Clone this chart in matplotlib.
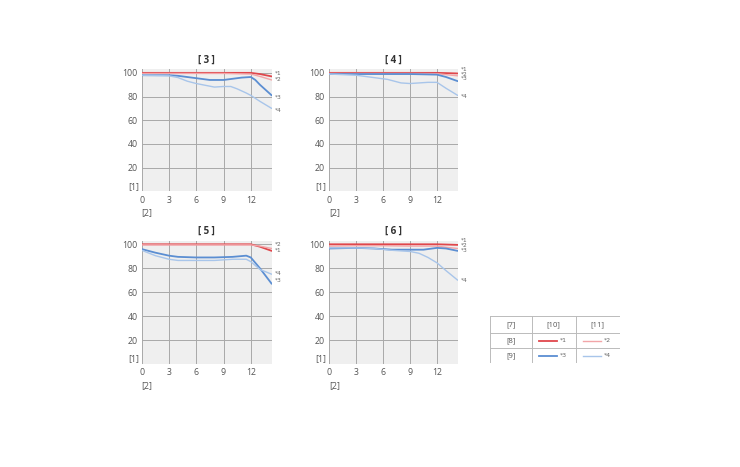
import matplotlib
matplotlib.use("Agg")
import matplotlib.pyplot as plt

plt.rcParams['font.family'] = ['Open Sans', 'DejaVu Sans']

titles = ["[3]", "[4]", "[5]", "[6]"]
y_label = "[1]"
x_label = "[2]"
x_ticks = [0, 3, 6, 9, 12]
y_ticks = [20, 40, 60, 80, 100]
series_names = ["*1", "*2", "*3", "*4"]

# image height positions (mm) and contrast (%) per panel
p3_x1 = [0, 3, 6, 9, 12, 13, 14.3]
p3_s1 = [100, 100, 100, 100, 100, 99, 97]
p3_x2 = [0, 3, 6, 9, 12, 13, 14.3]
p3_s2 = [99.5, 99.5, 99.5, 99.5, 99, 97, 94]
p3_x3 = [0, 3, 4, 5, 6, 7.5, 9, 10, 11, 12, 12.5, 13, 14.3]
p3_s3 = [98, 98, 97.5, 96.5, 95.5, 94, 94, 95, 96, 96.5, 94, 90, 81]
p3_x4 = [0, 3, 4, 5, 6, 7, 8, 9, 9.8, 10.5, 11.5, 12, 13, 14.3]
p3_s4 = [98, 97.5, 96, 93, 91, 89.5, 88, 88.5, 88.5, 86.5, 83, 81, 76, 70]

p4_x1 = [0, 3, 6, 9, 12, 13, 14.3]
p4_s1 = [100, 100, 100, 100, 100, 99.8, 99.5]
p4_x2 = [0, 3, 6, 9, 12, 13, 14.3]
p4_s2 = [99.5, 99.5, 99.5, 99.5, 99.3, 98.5, 97.5]
p4_x3 = [0, 3, 6, 9, 12, 13, 14.3]
p4_s3 = [99, 99, 99, 99, 98.5, 96.5, 93]
p4_x4 = [0, 3, 5, 6.5, 8, 9, 11, 12, 13, 14.3]
p4_s4 = [99, 98, 96, 94.5, 91.5, 91, 92, 92, 87, 81]

p5_x1 = [0, 3, 6, 9, 12, 13, 14.3]
p5_s1 = [100, 100, 100, 100, 100, 98, 94.5]
p5_x2 = [0, 3, 6, 9, 12, 13, 14.3]
p5_s2 = [99.5, 99.5, 99.5, 99.5, 99.5, 98.5, 96.5]
p5_x3 = [0, 1.5, 3, 4, 6, 8, 10, 11.5, 12, 13, 14.3]
p5_s3 = [96, 93, 90.5, 89.5, 89, 89, 89.5, 90.5, 89, 80, 67]
p5_x4 = [0, 1.5, 3, 4, 6, 8, 10, 11.5, 12, 13, 14.3]
p5_s4 = [95, 90.5, 87.5, 86.5, 86.5, 86.5, 87.5, 87.5, 85.5, 79, 75]

p6_x1 = [0, 3, 6, 9, 12, 13, 14.3]
p6_s1 = [100, 100, 100, 100, 100, 99.8, 99.5]
p6_x2 = [0, 3, 6, 9, 12, 13, 14.3]
p6_s2 = [98.5, 98.8, 98.8, 98.5, 98.5, 97.5, 96.5]
p6_x3 = [0, 3, 5, 7, 9, 10.5, 12, 13, 14.3]
p6_s3 = [96.5, 97, 96.5, 95.5, 95.5, 95.5, 97, 96.5, 94.5]
p6_x4 = [0, 3, 5, 7, 9, 10, 11, 12, 13, 14.3]
p6_s4 = [97, 97, 96.5, 95, 94, 92.5, 89, 84.5, 78, 70]

# label y positions for series names at right of each panel
p3_lab = [99.5, 94, 79, 68]
p4_lab = [103, 99, 95, 80]
p5_lab = [94.5, 99.5, 69.5, 76]
p6_lab = [103, 99, 95, 70]

panels = [
    (titles[0], [(p3_x1, p3_s1), (p3_x2, p3_s2), (p3_x3, p3_s3), (p3_x4, p3_s4)], p3_lab),
    (titles[1], [(p4_x1, p4_s1), (p4_x2, p4_s2), (p4_x3, p4_s3), (p4_x4, p4_s4)], p4_lab),
    (titles[2], [(p5_x1, p5_s1), (p5_x2, p5_s2), (p5_x3, p5_s3), (p5_x4, p5_s4)], p5_lab),
    (titles[3], [(p6_x1, p6_s1), (p6_x2, p6_s2), (p6_x3, p6_s3), (p6_x4, p6_s4)], p6_lab),
]

colors = ["#e0474c", "#f2a5a8", "#5b8ed2", "#a8c5ea"]
widths = [1.3, 1.0, 1.3, 1.0]

W, H = 740, 467
fig = plt.figure(figsize=(W / 100, H / 100), dpi=100)

# pixel boxes: left, top, right, bottom
boxes = [
    (141.7, 69.3, 271.7, 191.4),
    (329.0, 69.3, 457.7, 191.4),
    (141.7, 240.7, 271.7, 364.0),
    (329.0, 240.7, 457.7, 364.0),
]

txt_color = "#555555"
fs = 6.3

for (title, series, labs), (l, t, r, b) in zip(panels, boxes):
    ax = fig.add_axes([l / W, 1 - b / H, (r - l) / W, (b - t) / H])
    ax.set_facecolor("#efefef")
    ax.set_xlim(0, 14.3)
    ax.set_ylim(0, 103)
    for s in ax.spines.values():
        s.set_visible(False)
    ax.set_xticks(x_ticks)
    ax.set_yticks(y_ticks)
    ax.grid(True, color="#a8a8a8", linewidth=0.7)
    ax.set_axisbelow(True)
    ax.tick_params(length=0, labelsize=fs, colors=txt_color, pad=3)
    for (xs, ys), c, lw in zip(series, colors, widths):
        ax.plot(xs, ys, color=c, linewidth=lw, solid_capstyle="round")
    for name, ly in zip(series_names, labs):
        ax.text(14.3 + 0.3, ly, name, fontsize=4.2, color="#666666",
                family="DejaVu Sans", va="center", ha="left", clip_on=False)
    ax.set_title(" ".join(title), fontsize=7, color="#333333", pad=5,
                 fontweight="bold")
    ax.text(-0.02, 0.04, y_label, transform=ax.transAxes, fontsize=fs,
            color=txt_color, ha="right", va="center")
    ax.text(0.0, -0.175, x_label, transform=ax.transAxes, fontsize=fs,
            color=txt_color, ha="left", va="center")

# legend table
tl, tt, tr, tb = 490, 315.7, 620, 363.3
tax = fig.add_axes([tl / W, 1 - tb / H, (tr - tl) / W, (tb - tt) / H])
tax.set_xlim(tl, tr)
tax.set_ylim(tb, tt)
tax.axis("off")
col_edges = [490, 531.7, 575.7, 620]
row_edges = [315.7, 333.3, 348.3, 363.3]
grid_c = "#bbbbbb"
for xe in col_edges:
    tax.plot([xe, xe], [row_edges[0], row_edges[-1]], color=grid_c, lw=0.7)
for ye in row_edges:
    tax.plot([col_edges[0], col_edges[-1]], [ye, ye], color=grid_c, lw=0.7)

hdr = ["[7]", "[10]", "[11]"]
rows = ["[8]", "[9]"]
for i, h in enumerate(hdr):
    cx = (col_edges[i] + col_edges[i + 1]) / 2
    tax.text(cx, (row_edges[0] + row_edges[1]) / 2, h, fontsize=5.5,
             color=txt_color, ha="center", va="center")
for j, rl in enumerate(rows):
    cy = (row_edges[j + 1] + row_edges[j + 2]) / 2
    tax.text((col_edges[0] + col_edges[1]) / 2, cy, rl, fontsize=5.5,
             color=txt_color, ha="center", va="center")
    for k in range(2):
        idx = j * 2 + k
        x0 = col_edges[k + 1]
        tax.plot([x0 + 7, x0 + 25], [cy, cy], color=colors[idx], lw=widths[idx])
        tax.text(x0 + 28, cy, series_names[idx], fontsize=4.5, color="#666666",
                 family="DejaVu Sans", ha="left", va="center")

fig.savefig("out.png", dpi=100)
